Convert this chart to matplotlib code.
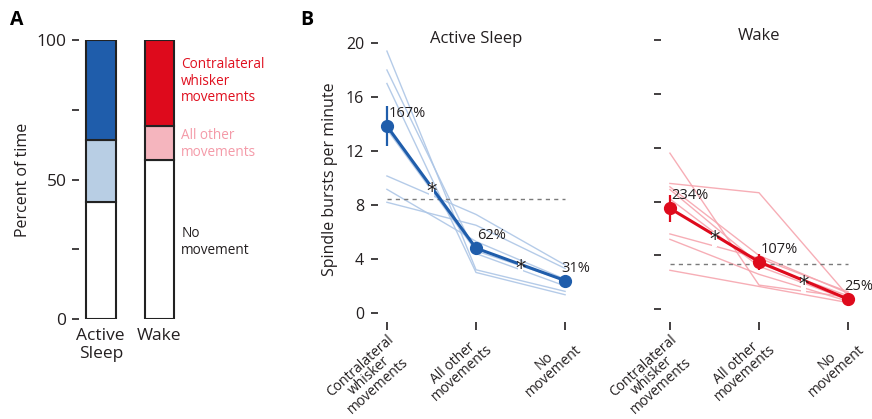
import matplotlib
matplotlib.use("Agg")
import matplotlib.pyplot as plt
import numpy as np

plt.rcParams['font.family'] = ['Open Sans', 'DejaVu Sans']

# ---- Panel A: percent of time in each movement state ----
states = ["Active\nSleep", "Wake"]
pct_no_movement = [42, 57]
pct_other = [22, 12]
pct_contra = [36, 31]

# ---- Panel B: spindle burst rates ----
categories = ["Contralateral\nwhisker\nmovements", "All other\nmovements", "No\nmovement"]

as_individual = [
    [19.4, 3.2, 1.6],
    [18.0, 4.4, 2.0],
    [17.0, 3.0, 1.35],
    [13.6, 4.6, 2.4],
    [10.15, 7.3, 3.55],
    [9.16, 5.3, 2.5],
    [8.2, 6.5, 3.3],
]
as_mean = [13.85, 4.8, 2.4]
as_err = [1.45, 0.3, 0.1]
as_baseline = 8.45
as_pct = ["167%", "62%", "31%"]

wake_individual = [
    [11.6, 1.8, 0.9],
    [9.35, 8.66, 1.0],
    [9.1, 4.0, 1.2],
    [8.9, 3.4, 1.0],
    [8.2, 3.2, 0.7],
    [5.6, 3.8, 1.3],
    [5.2, 2.6, 0.6],
    [2.9, 1.7, 0.5],
]
wake_mean = [7.5, 3.53, 0.76]
wake_err = [1.0, 0.6, 0.1]
wake_baseline = 3.34
wake_pct = ["234%", "107%", "25%"]

BLUE_DARK = "#1f5dab"
BLUE_LIGHT = "#b8cee4"
BLUE_IND = "#adc6e6"
RED_DARK = "#de0a1c"
RED_LIGHT = "#f5b5be"
RED_IND = "#f6a5ae"
RED_TEXT = "#e0101f"
PINK_TEXT = "#f49aa8"
TXT = "#231f20"

W, H = 872, 419
fig = plt.figure(figsize=(W / 100, H / 100), dpi=100)


def px_axes(x0, x1, ytop, ybot):
    return fig.add_axes([x0 / W, 1 - ybot / H, (x1 - x0) / W, (ybot - ytop) / H])


# ---------------- Panel A ----------------
axA = px_axes(79, 183, 40, 319)
xa = np.arange(len(states))
bw = 0.51
edge = dict(edgecolor="#222222", linewidth=1.5)
axA.bar(xa, pct_no_movement, bw, color="white", **edge)
axA.bar(xa, pct_other, bw, bottom=pct_no_movement,
        color=[BLUE_LIGHT, RED_LIGHT], **edge)
axA.bar(xa, pct_contra, bw, bottom=np.add(pct_no_movement, pct_other),
        color=[BLUE_DARK, RED_DARK], **edge)
axA.set_xlim(-0.37, 1.4)
axA.set_ylim(0, 100)
for s in axA.spines.values():
    s.set_visible(False)
axA.set_yticks([0, 25, 50, 75, 100])
axA.set_yticklabels(["0", "", "50", "", "100"])
axA.tick_params(axis="y", length=5, width=1.2, pad=4, labelsize=12.5, colors=TXT)
axA.set_xticks(xa)
axA.set_xticklabels(states, fontsize=12.5, color=TXT, linespacing=1.2)
axA.tick_params(axis="x", length=0, pad=6.5)
axA.set_ylabel("Percent of time", fontsize=11.5, color=TXT, labelpad=4)

lab_x = 1.37
axA.text(lab_x, 85.3, "Contralateral\nwhisker\nmovements", color=RED_TEXT,
         fontsize=9.8, va="center", ha="left", linespacing=1.15, clip_on=False)
axA.text(lab_x, 62.7, "All other\nmovements", color=PINK_TEXT,
         fontsize=9.8, va="center", ha="left", linespacing=1.15, clip_on=False)
axA.text(lab_x, 27.6, "No\nmovement", color=TXT,
         fontsize=9.8, va="center", ha="left", linespacing=1.15, clip_on=False)

fig.text(10 / W, 1 - 20 / H, "A", fontsize=14, fontweight="bold", va="center", ha="left")
fig.text(300 / W, 1 - 20 / H, "B", fontsize=14, fontweight="bold", va="center", ha="left")


# ---------------- Panel B ----------------
def spindle_panel(ax, individual, mean, err, baseline, pct, c_ind, c_mean,
                  title, ylim_lo, show_labels):
    xs = np.arange(len(categories))
    for row in individual:
        ax.plot(xs, row, color=c_ind, lw=1.0, alpha=0.9, zorder=1)
    ax.plot([0, 2], [baseline, baseline], color="#7a7a7a", lw=1.0,
            dashes=(3, 3), zorder=2)
    ax.errorbar(xs, mean, yerr=err, color=c_mean, lw=2.2, elinewidth=1.6,
                capsize=0, marker="o", ms=8.5, zorder=4)
    for i in range(2):
        mx = (xs[i] + xs[i + 1]) / 2
        my = (mean[i] + mean[i + 1]) / 2
        ax.text(mx, my - 0.35, "*", fontsize=15, ha="center", va="center",
                color=TXT, zorder=5, family="DejaVu Sans",
                bbox=dict(boxstyle="square,pad=-0.12", fc="white", ec="none"))
    for i, t in enumerate(pct):
        dx = -3 if i == len(pct) - 1 else 1
        ax.annotate(t, (xs[i], mean[i]), xytext=(dx, 9), textcoords="offset points",
                    ha="left", va="center", fontsize=10.5, color=TXT, zorder=6)
    ax.set_xlim(-0.1, 2.1)
    ax.set_ylim(ylim_lo, 20.5)
    for s in ax.spines.values():
        s.set_visible(False)
    ax.set_yticks([0, 4, 8, 12, 16, 20])
    ax.tick_params(axis="y", length=5, width=1.2, pad=5, labelsize=11.5, colors=TXT,
                   labelleft=show_labels)
    ax.set_xticks(xs)
    ax.set_xticklabels(categories, rotation=42, ha="right", va="top",
                       rotation_mode="anchor", multialignment="center",
                       fontsize=10, color=TXT, linespacing=0.86)
    ax.tick_params(axis="x", length=6, width=1.2, pad=1.0, colors=TXT)
    ax.text(1, 20, title, ha="center", va="baseline", fontsize=12, color=TXT,
            clip_on=False)


axL = px_axes(378, 574, 36.25, 322)
spindle_panel(axL, as_individual, as_mean, as_err, as_baseline, as_pct,
              BLUE_IND, BLUE_DARK, "Active Sleep", -0.67, True)
axL.set_ylabel("Spindle bursts per minute", fontsize=11.5, color=TXT, labelpad=6)

axR = px_axes(661, 857, 33.3, 322)
spindle_panel(axR, wake_individual, wake_mean, wake_err, wake_baseline, wake_pct,
              RED_IND, RED_DARK, "Wake", -0.94, False)

fig.savefig("out.png", dpi=100)
